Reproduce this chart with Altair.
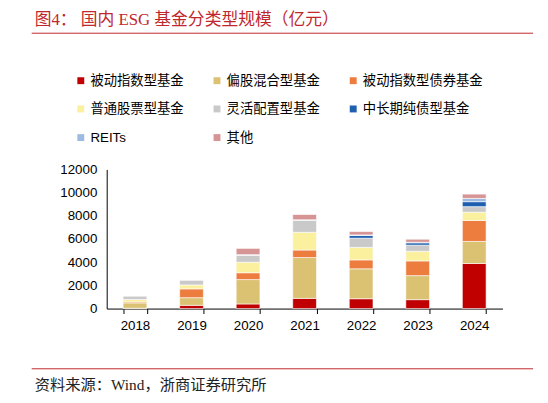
import altair as alt
import pandas as pd

years = ["2018", "2019", "2020", "2021", "2022", "2023", "2024"]
categories = ["被动指数型基金", "偏股混合型基金", "被动指数型债券基金", "普通股票型基金",
              "灵活配置型基金", "中长期纯债型基金", "REITs", "其他"]
colors = ["#C00000", "#DBC172", "#ED7D3F", "#FAF09E", "#C9C9C9", "#1F5FAF", "#9DBBE0", "#D79494"]

# 亿元, per year, one list per category (bottom to top)
passive_index = [30, 280, 400, 880, 850, 770, 3890]
equity_hybrid = [460, 660, 2100, 3520, 2580, 2070, 1900]
passive_bond = [80, 760, 590, 650, 770, 1270, 1810]
common_stock = [220, 340, 910, 1530, 1080, 830, 710]
flexible = [320, 430, 620, 1050, 790, 530, 480]
mid_long_bond = [0, 20, 0, 0, 230, 200, 430]
reits = [0, 0, 30, 30, 50, 50, 280]
others = [0, 0, 540, 450, 290, 260, 370]

series = [passive_index, equity_hybrid, passive_bond, common_stock,
          flexible, mid_long_bond, reits, others]

rows = []
for i, (cat, vals) in enumerate(zip(categories, series)):
    for y, v in zip(years, vals):
        rows.append({"year": y, "category": cat, "value": v, "idx": i})
df = pd.DataFrame(rows)
one = pd.DataFrame({"k": [0]})

W, H = 401, 141
LAT = "'Liberation Sans', 'Noto Sans CJK SC'"
SERIF = "'Liberation Serif', 'Noto Sans CJK SC'"

bars = alt.Chart(df).mark_bar(stroke="white", strokeWidth=0.6).encode(
    x=alt.X("year:N", title=None, sort=years,
            scale=alt.Scale(paddingInner=0.58, paddingOuter=0.29),
            axis=alt.Axis(labelAngle=0, labelFont=LAT, labelFontSize=13.5, labelColor="#000",
                          domainColor="#000", tickColor="#000", tickSize=5, tickBand="extent",
                          labelPadding=5)),
    y=alt.Y("value:Q", title=None, stack="zero",
            scale=alt.Scale(domain=[0, 12000], nice=False),
            axis=alt.Axis(values=[0, 2000, 4000, 6000, 8000, 10000, 12000], grid=False,
                          format="d", ticks=False, labelFont=LAT, labelFontSize=13.5,
                          labelColor="#000", domainColor="#000", labelPadding=10)),
    color=alt.Color("category:N", sort=categories,
                    scale=alt.Scale(domain=categories, range=colors),
                    legend=alt.Legend(title=None, orient="none", legendX=-33, legendY=-97,
                                      direction="horizontal", columns=3, columnPadding=27,
                                      rowPadding=14, symbolType="square", symbolSize=49,
                                      symbolStrokeWidth=0, labelFont=LAT, labelFontSize=13.5,
                                      labelColor="#000", labelOffset=3, labelLimit=200)),
    order=alt.Order("idx:Q", sort="ascending"),
)

title = alt.Chart(one).mark_text(
    text="图4：  国内 ESG 基金分类型规模（亿元）", align="left", baseline="middle",
    font=SERIF, fontSize=17, fontWeight="normal", color="#C0282E"
).encode(x=alt.value(-73), y=alt.value(-151))

top_line = alt.Chart(one).mark_rule(color="#C0282E", strokeWidth=1).encode(
    x=alt.value(-76), x2=alt.value(432), y=alt.value(-138))

bottom_line = alt.Chart(one).mark_rule(color="#C0282E", strokeWidth=1).encode(
    x=alt.value(-76), x2=alt.value(432), y=alt.value(202))

source = alt.Chart(one).mark_text(
    text="资料来源：Wind，浙商证券研究所", align="left", baseline="middle",
    font=SERIF, fontSize=15.5, fontWeight="normal", color="#222"
).encode(x=alt.value(-73), y=alt.value(218))

chart = alt.layer(bars, title, top_line, bottom_line, source).properties(
    width=W, height=H,
    autosize=alt.AutoSizeParams(type="none"),
    padding={"left": 100, "top": 161, "right": 38, "bottom": 84},
).configure_view(stroke=None)

chart.save("out.html", embed_options={"renderer": "svg", "actions": False})
